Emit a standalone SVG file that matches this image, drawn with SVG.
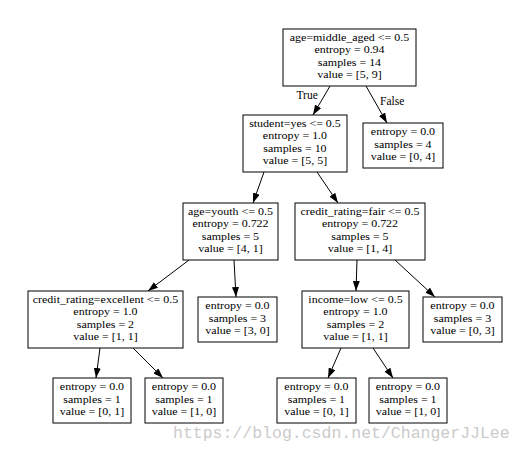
<svg xmlns="http://www.w3.org/2000/svg" width="526" height="451" viewBox="0 0 526 451">
<style>
  .box { fill: #ffffff; stroke: #000000; stroke-width: 1; }
  .t { font-family: "Liberation Serif", "Times New Roman", serif; font-size: 11.2px; fill: #000000; text-anchor: middle; transform-box: fill-box; transform-origin: center; transform: scaleX(1.07); }
  .lbl { font-family: "Liberation Serif", "Times New Roman", serif; font-size: 11.5px; fill: #000000; }
  .edge { stroke: #000000; stroke-width: 1; fill: none; marker-end: url(#arr); }
  .wm { font-family: "Liberation Mono", "DejaVu Sans Mono", monospace; font-size: 16.5px; fill: #cbcbcb; }
</style>
<defs>
  <marker id="arr" markerUnits="userSpaceOnUse" markerWidth="10" markerHeight="7" refX="10" refY="3.5" orient="auto">
    <path d="M0,0 L10,3.5 L0,7 z" fill="#000000"/>
  </marker>
</defs>
<rect width="526" height="451" fill="#ffffff"/>

<g id="connectors">
  <line class="edge" x1="330" y1="86" x2="313" y2="115"/>
  <line class="edge" x1="366" y1="86" x2="387" y2="123"/>
  <line class="edge" x1="264" y1="172" x2="253" y2="203"/>
  <line class="edge" x1="317" y1="172" x2="338" y2="203"/>
  <line class="edge" x1="189" y1="260" x2="148" y2="291"/>
  <line class="edge" x1="234" y1="260" x2="236" y2="297"/>
  <line class="edge" x1="357" y1="260" x2="356" y2="291"/>
  <line class="edge" x1="395" y1="260" x2="435" y2="297"/>
  <line class="edge" x1="100" y1="348" x2="96" y2="378"/>
  <line class="edge" x1="133" y1="348" x2="163" y2="378"/>
  <line class="edge" x1="341" y1="348" x2="328" y2="378"/>
  <line class="edge" x1="373" y1="348" x2="393" y2="378"/>
  <text class="lbl" x="296.5" y="99">True</text>
  <text class="lbl" x="380" y="104.5">False</text>
</g>

<g id="node0">
  <rect class="box" x="283" y="29" width="133" height="57"/>
  <text class="t" x="349.5" y="41">age=middle_aged &lt;= 0.5</text>
  <text class="t" x="349.5" y="53.5">entropy = 0.94</text>
  <text class="t" x="349.5" y="66">samples = 14</text>
  <text class="t" x="349.5" y="78.5">value = [5, 9]</text>
</g>

<g id="node1">
  <rect class="box" x="243" y="115" width="104" height="57"/>
  <text class="t" x="295" y="127">student=yes &lt;= 0.5</text>
  <text class="t" x="295" y="139.5">entropy = 1.0</text>
  <text class="t" x="295" y="152">samples = 10</text>
  <text class="t" x="295" y="164.5">value = [5, 5]</text>
</g>

<g id="node2">
  <rect class="box" x="363" y="123" width="80" height="45"/>
  <text class="t" x="403" y="135.5">entropy = 0.0</text>
  <text class="t" x="403" y="148">samples = 4</text>
  <text class="t" x="403" y="160.5">value = [0, 4]</text>
</g>

<g id="node3">
  <rect class="box" x="183" y="203" width="95" height="57"/>
  <text class="t" x="230.5" y="215">age=youth &lt;= 0.5</text>
  <text class="t" x="230.5" y="227.5">entropy = 0.722</text>
  <text class="t" x="230.5" y="240">samples = 5</text>
  <text class="t" x="230.5" y="252.5">value = [4, 1]</text>
</g>

<g id="node4">
  <rect class="box" x="295" y="203" width="130" height="57"/>
  <text class="t" x="360" y="215">credit_rating=fair &lt;= 0.5</text>
  <text class="t" x="360" y="227.5">entropy = 0.722</text>
  <text class="t" x="360" y="240">samples = 5</text>
  <text class="t" x="360" y="252.5">value = [1, 4]</text>
</g>

<g id="node5">
  <rect class="box" x="28" y="291" width="155" height="57"/>
  <text class="t" x="105.5" y="303">credit_rating=excellent &lt;= 0.5</text>
  <text class="t" x="105.5" y="315.5">entropy = 1.0</text>
  <text class="t" x="105.5" y="328">samples = 2</text>
  <text class="t" x="105.5" y="340.5">value = [1, 1]</text>
</g>

<g id="node6">
  <rect class="box" x="198" y="297" width="79" height="45"/>
  <text class="t" x="237.5" y="309.5">entropy = 0.0</text>
  <text class="t" x="237.5" y="322">samples = 3</text>
  <text class="t" x="237.5" y="334.5">value = [3, 0]</text>
</g>

<g id="node7">
  <rect class="box" x="302" y="291" width="107" height="57"/>
  <text class="t" x="355.5" y="303">income=low &lt;= 0.5</text>
  <text class="t" x="355.5" y="315.5">entropy = 1.0</text>
  <text class="t" x="355.5" y="328">samples = 2</text>
  <text class="t" x="355.5" y="340.5">value = [1, 1]</text>
</g>

<g id="node8">
  <rect class="box" x="423" y="297" width="79" height="45"/>
  <text class="t" x="462.5" y="309.5">entropy = 0.0</text>
  <text class="t" x="462.5" y="322">samples = 3</text>
  <text class="t" x="462.5" y="334.5">value = [0, 3]</text>
</g>

<g id="node9">
  <rect class="box" x="53" y="378" width="78" height="45"/>
  <text class="t" x="92" y="390.5">entropy = 0.0</text>
  <text class="t" x="92" y="403">samples = 1</text>
  <text class="t" x="92" y="415.5">value = [0, 1]</text>
</g>

<g id="node10">
  <rect class="box" x="145" y="378" width="78" height="45"/>
  <text class="t" x="184" y="390.5">entropy = 0.0</text>
  <text class="t" x="184" y="403">samples = 1</text>
  <text class="t" x="184" y="415.5">value = [1, 0]</text>
</g>

<g id="node11">
  <rect class="box" x="277" y="378" width="79" height="45"/>
  <text class="t" x="316.5" y="390.5">entropy = 0.0</text>
  <text class="t" x="316.5" y="403">samples = 1</text>
  <text class="t" x="316.5" y="415.5">value = [0, 1]</text>
</g>

<g id="node12">
  <rect class="box" x="369" y="378" width="78" height="45"/>
  <text class="t" x="408" y="390.5">entropy = 0.0</text>
  <text class="t" x="408" y="403">samples = 1</text>
  <text class="t" x="408" y="415.5">value = [1, 0]</text>
</g>

<text class="wm" x="173" y="438">https://blog.csdn.net/ChangerJJLee</text>
</svg>
